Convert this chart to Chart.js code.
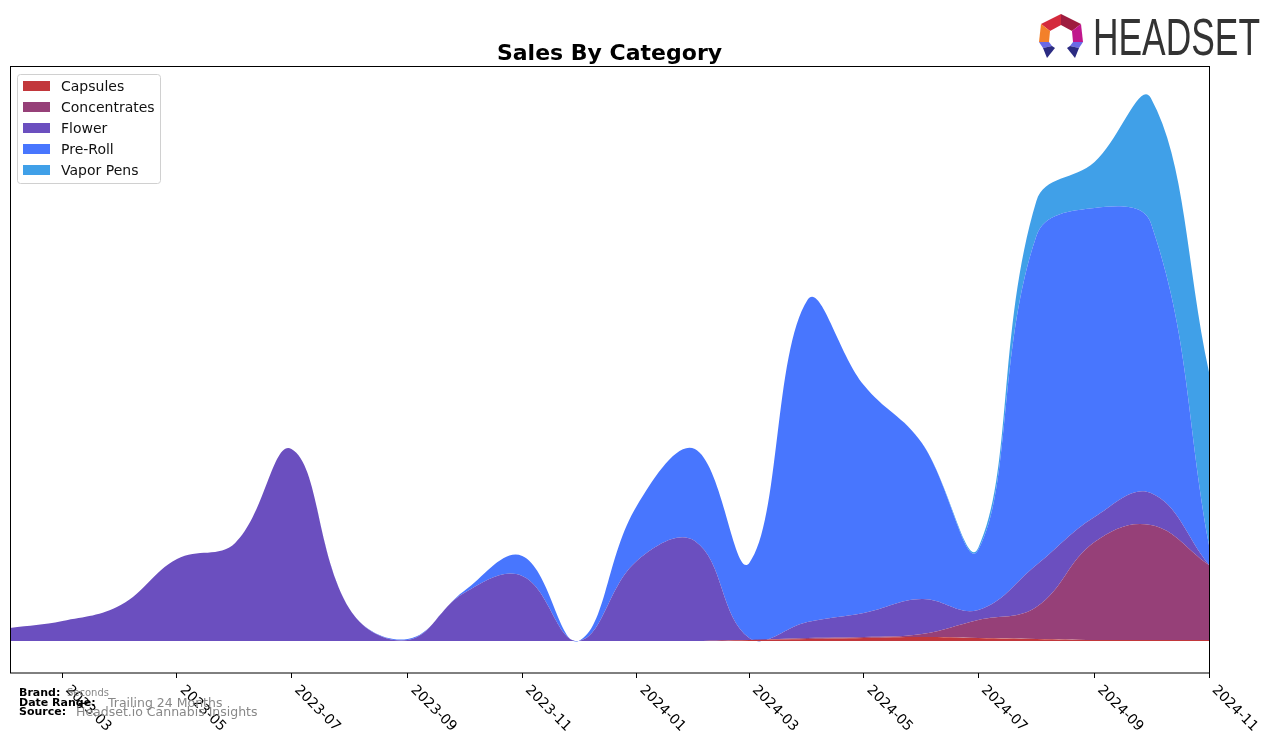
<!DOCTYPE html>
<html>
<head>
<meta charset="utf-8">
<script src="https://cdn.jsdelivr.net/npm/chart.js@4.4.1/dist/chart.umd.min.js"></script>
<style>
  html, body { margin: 0; padding: 0; background: #fff; }
  #wrap { position: relative; width: 1276px; height: 743px; }
  #logo { position: absolute; left: 0; top: 0; }
</style>
</head>
<body>
<div id="wrap">
  <canvas id="c" width="1276" height="743"></canvas>
  <svg id="logo" width="1276" height="70" viewBox="0 0 1276 70">
    <polygon points="1061,14 1041,24 1050,31 1061,25" fill="#d42a3c"/>
    <polygon points="1061,14 1081,24 1072,31 1061,25" fill="#9e1c3f"/>
    <polygon points="1041,24 1039,42 1049,42 1050,31" fill="#f3802a"/>
    <polygon points="1081,24 1083,42 1073,42 1072,31" fill="#c0178c"/>
    <polygon points="1039,42 1049,42 1052,46 1043,48" fill="#6a6ae6"/>
    <polygon points="1043,48 1052,46 1055,48 1047,58" fill="#2b2b82"/>
    <polygon points="1083,42 1073,42 1070,46 1079,48" fill="#6a6ae6"/>
    <polygon points="1079,48 1070,46 1067,48 1075,58" fill="#2b2b82"/>
    <text x="1093" y="55" font-family="Liberation Sans, Arial, sans-serif" font-size="52" fill="#333333" textLength="167" lengthAdjust="spacingAndGlyphs">HEADSET</text>
  </svg>
</div>
<script>
// ---- data ----
const months = ['2023-02','2023-03','2023-04','2023-05','2023-06','2023-07','2023-08','2023-09','2023-10','2023-11','2023-12',
                '2024-01','2024-02','2024-03','2024-04','2024-05','2024-06','2024-07','2024-08','2024-09','2024-10','2024-11'];
const categories = ['Capsules','Concentrates','Flower','Pre-Roll','Vapor Pens'];
const capsules     = [0,0,0,0,0,0,0,0,0,0,0, 0,0,1,2,3,4,3,2,1,1,1];
const concentrates = [0,0,0,0,0,0,0,0,0,0,0, 0,0,0,1,1,3,18,32,98,115,75];
const flower       = [13,20,36,82,98,192,32,1,48,65,0, 80,100,2,16,24,35,10,42,25,32,0];
const preRoll      = [0,0,0,0,0,0,0,1,2,20,0, 55,92,75,322,228,156,60,329,309,270,20];
const vaporPens    = [0,0,0,0,0,0,0,0,0,0,0, 0,0,0,0,0,0,2,35,46,125,173];
const tickLabels = ['2023-03','2023-05','2023-07','2023-09','2023-11','2024-01','2024-03','2024-05','2024-07','2024-09','2024-11'];
const xStart = '2023-02', xEnd = '2024-11';
const colors = ['#c2373b','#964078','#6b4fbf','#4876fe','#40a0e8'];
const footer = [['Brand:', 'Seconds'], ['Date Range:', 'Trailing 24 Months'], ['Source:', 'Headset.io Cannabis Insights']];

const ts = s => Date.UTC(+s.slice(0,4), +s.slice(5,7) - 1, 1);
const series = [capsules, concentrates, flower, preRoll, vaporPens];

const datasets = series.map((vals, i) => ({
  label: categories[i],
  data: vals.map((v, j) => ({x: ts(months[j]), y: v})),
  backgroundColor: colors[i],
  borderColor: colors[i],
  borderWidth: 0,
  pointRadius: 0,
  pointHoverRadius: 0,
  fill: i === 0 ? 'origin' : '-1',
  tension: 0.4
}));

const deco = {
  id: 'deco',
  afterDraw(chart) {
    const ctx = chart.ctx;
    const a = chart.chartArea;
    ctx.save();
    // frame
    ctx.strokeStyle = '#000';
    ctx.lineWidth = 1;
    ctx.strokeRect(Math.round(a.left) + 0.5, Math.round(a.top) - 0.5, Math.round(a.right - a.left), Math.round(a.bottom - a.top) + 0.5);
    // title
    ctx.fillStyle = '#000';
    ctx.font = 'bold 22px "DejaVu Sans"';
    ctx.textAlign = 'center';
    ctx.textBaseline = 'alphabetic';
    ctx.fillText('Sales By Category', (a.left + a.right) / 2, 60);
    // tick labels rotated
    const xs = chart.scales.x;
    ctx.font = '14px "DejaVu Sans"';
    ctx.textAlign = 'left';
    ctx.textBaseline = 'top';
    tickLabels.forEach(l => {
      const px = xs.getPixelForValue(ts(l));
      ctx.save();
      ctx.translate(px + 10, a.bottom + 10);
      ctx.rotate(Math.PI / 4);
      ctx.fillText(l, 0, 0);
      ctx.restore();
    });
    // legend
    const lx = 17.5, ly = 74.5, lw = 143, lh = 109, r = 3;
    ctx.beginPath();
    ctx.moveTo(lx + r, ly);
    ctx.arcTo(lx + lw, ly, lx + lw, ly + lh, r);
    ctx.arcTo(lx + lw, ly + lh, lx, ly + lh, r);
    ctx.arcTo(lx, ly + lh, lx, ly, r);
    ctx.arcTo(lx, ly, lx + lw, ly, r);
    ctx.closePath();
    ctx.fillStyle = 'rgba(255,255,255,0.8)';
    ctx.fill();
    ctx.strokeStyle = '#d0d0d0';
    ctx.stroke();
    ctx.font = '14px "DejaVu Sans"';
    ctx.textBaseline = 'middle';
    categories.forEach((c, i) => {
      const cy = 86 + 21 * i;
      ctx.fillStyle = colors[i];
      ctx.fillRect(23, cy - 5, 27, 10);
      ctx.fillStyle = '#111';
      ctx.fillText(c, 61, cy + 1);
    });
    // footer
    ctx.textBaseline = 'alphabetic';
    ctx.fillStyle = '#000';
    ctx.font = 'bold 11px "DejaVu Sans"';
    ctx.fillText(footer[0][0], 19, 696);
    ctx.fillText(footer[1][0], 19, 706);
    ctx.fillText(footer[2][0], 19, 715);
    ctx.fillStyle = '#888';
    ctx.font = '10px "DejaVu Sans"';
    ctx.fillText(footer[0][1], 67, 696);
    ctx.font = '12.5px "DejaVu Sans"';
    ctx.fillText(footer[1][1], 108, 707);
    ctx.fillText(footer[2][1], 76, 716);
    ctx.restore();
  }
};

new Chart(document.getElementById('c'), {
  type: 'line',
  data: { datasets },
  options: {
    responsive: false,
    animation: false,
    devicePixelRatio: 1,
    layout: { padding: { left: 10, right: 67, top: 67, bottom: 0 } },
    plugins: { legend: { display: false }, title: { display: false }, tooltip: { enabled: false } },
    elements: { line: { cubicInterpolationMode: 'default' } },
    scales: {
      x: {
        type: 'linear',
        min: ts(xStart),
        max: ts(xEnd),
        afterBuildTicks: s => { s.ticks = tickLabels.map(l => ({ value: ts(l) })); },
        afterFit: s => { s.height = 70; },
        ticks: { display: false },
        grid: { display: true, drawOnChartArea: false, drawTicks: true, tickLength: 5, tickColor: '#000', tickWidth: 1 },
        border: { display: false }
      },
      y: {
        display: false,
        stacked: true,
        min: -32,
        max: 574
      }
    }
  },
  plugins: [deco]
});
</script>
</body>
</html>
